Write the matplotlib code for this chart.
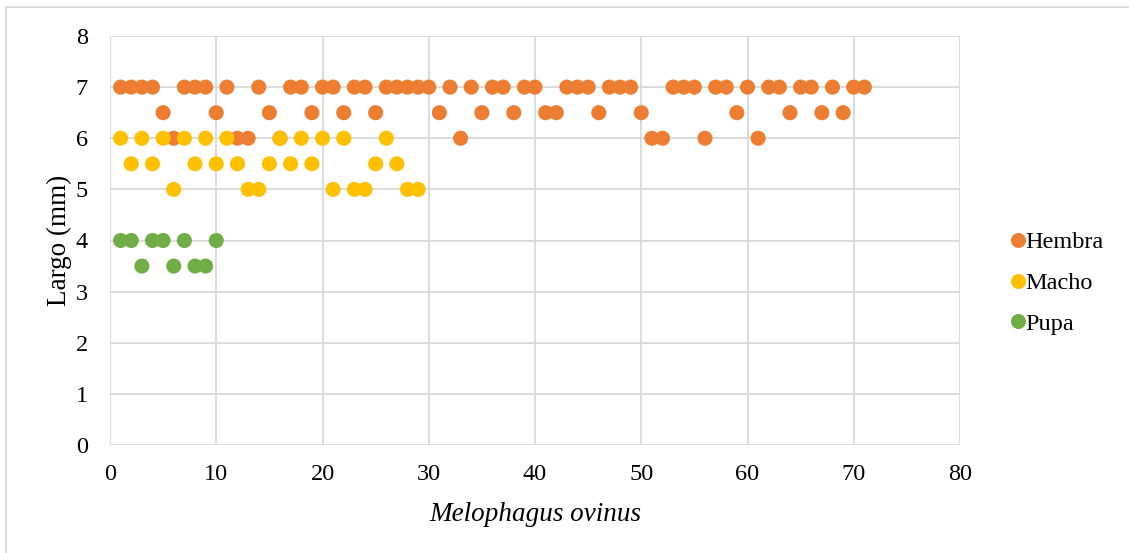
import matplotlib
matplotlib.use("Agg")
import matplotlib.pyplot as plt
from matplotlib.lines import Line2D

plt.rcParams['font.family'] = ['Liberation Serif', 'DejaVu Serif']

# Data
hembra_x = [1, 2, 3, 4, 5, 6, 7, 8, 9, 10, 11, 12, 13, 14, 15, 16, 17, 18, 19, 20,
            21, 22, 23, 24, 25, 26, 27, 28, 29, 30, 31, 32, 33, 34, 35, 36, 37, 38, 39, 40,
            41, 42, 43, 44, 45, 46, 47, 48, 49, 50, 51, 52, 53, 54, 55, 56, 57, 58, 59, 60,
            61, 62, 63, 64, 65, 66, 67, 68, 69, 70, 71]
hembra_y = [7, 7, 7, 7, 6.5, 6, 7, 7, 7, 6.5, 7, 6, 6, 7, 6.5, 6, 7, 7, 6.5, 7,
            7, 6.5, 7, 7, 6.5, 7, 7, 7, 7, 7, 6.5, 7, 6, 7, 6.5, 7, 7, 6.5, 7, 7,
            6.5, 6.5, 7, 7, 7, 6.5, 7, 7, 7, 6.5, 6, 6, 7, 7, 7, 6, 7, 7, 6.5, 7,
            6, 7, 7, 6.5, 7, 7, 6.5, 7, 6.5, 7, 7]
macho_x = list(range(1, 30))
macho_y = [6, 5.5, 6, 5.5, 6, 5, 6, 5.5, 6, 5.5, 6, 5.5, 5, 5, 5.5, 6, 5.5, 6, 5.5, 6,
           5, 6, 5, 5, 5.5, 6, 5.5, 5, 5]
pupa_x = list(range(1, 11))
pupa_y = [4, 4, 3.5, 4, 4, 3.5, 4, 3.5, 3.5, 4]

series = [("Hembra", hembra_x, hembra_y, "#ED7D31"),
          ("Macho", macho_x, macho_y, "#FFC000"),
          ("Pupa", pupa_x, pupa_y, "#70AD47")]

W, H = 1129, 553
fig = plt.figure(figsize=(W / 100, H / 100), dpi=100)
ax = fig.add_axes([110 / W, 1 - 445 / H, (960 - 110) / W, (445 - 36) / H])

for name, xs, ys, c in series:
    ax.scatter(xs, ys, s=118, color=c, edgecolors='none', label=name, zorder=3)

ax.set_xlim(0, 80)
ax.set_ylim(0, 8)
ax.set_xticks(range(0, 81, 10))
ax.set_yticks(range(0, 9))
ax.grid(True, color='#D9D9D9', linewidth=1.3, zorder=0)
for s in ax.spines.values():
    s.set_visible(False)
ax.tick_params(length=0, labelsize=17.5)
ax.tick_params(axis='y', pad=16)
ax.tick_params(axis='x', pad=14)
ax.set_xlabel("Melophagus ovinus", fontsize=19.5, style='italic')
ax.set_ylabel("Largo (mm)", fontsize=19.5)
ax.xaxis.set_label_coords(0.5, -0.14)
ax.yaxis.set_label_coords(-0.045, 0.5)

handles = [Line2D([], [], marker='o', linestyle='none', markersize=10.8,
                  markerfacecolor=c, markeredgecolor='none', label=n)
           for n, _, _, c in series]
fig.legend(handles=handles, loc='center left', bbox_to_anchor=(982 / W, 1 - 283 / H),
           frameon=False, fontsize=17.5, handletextpad=-0.3, labelspacing=0.78,
           handlelength=1.2)

# outer chart border
fig.add_artist(Line2D([6 / W, 6 / W], [0, 1 - 7 / H], transform=fig.transFigure,
                      color='#D9D9D9', linewidth=1.3))
fig.add_artist(Line2D([6 / W, 1], [1 - 7 / H, 1 - 7 / H], transform=fig.transFigure,
                      color='#D9D9D9', linewidth=1.3))

fig.savefig("out.png", dpi=100)
